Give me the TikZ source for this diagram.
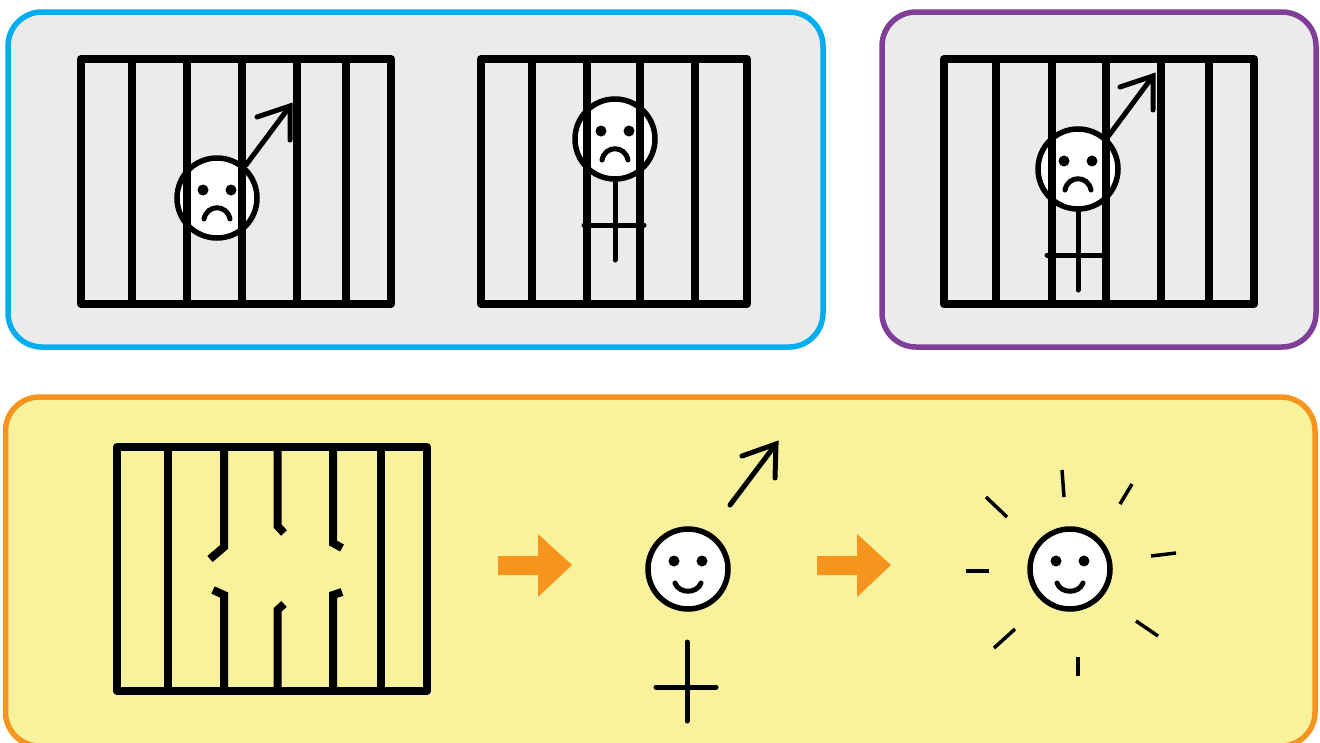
\documentclass[tikz,border=0pt]{standalone}

\definecolor{panelgray}{HTML}{EBEBEB}
\definecolor{panelyellow}{HTML}{F8F29D}
\definecolor{edgeblue}{HTML}{00AEEF}
\definecolor{edgepurple}{HTML}{7F3F98}
\definecolor{edgeorange}{HTML}{F7941E}

\tikzset{
  panel/.style={line width=5.5pt,rounded corners=34pt},
  cage/.style={line width=8pt,line join=round},
  bar/.style={line width=8pt},
  face/.style={circle,draw,fill=white,line width=5.5pt,minimum size=80pt,inner sep=0pt},
  mood/.style={line width=5pt,line cap=round},
  limb/.style={line width=5pt,line cap=round,line join=miter},
  ray/.style={line width=3.5pt}
}

\begin{document}
\begin{tikzpicture}[x=1pt,y=-1pt]
  \useasboundingbox (0,0) rectangle (1320,742);
  % panels
  \draw[panel,draw=edgeblue,fill=panelgray] (8,12) rectangle (823,347);
  \draw[panel,draw=edgepurple,fill=panelgray] (882,12) rectangle (1316,347);
  \draw[panel,draw=edgeorange,fill=panelyellow] (5.5,397) rectangle (1315,746);
  % sad faces
  \foreach \n/\x/\y in {sadA/217/198,sadB/615/139,sadC/1078/169}
  {
    \node[face] (\n) at (\x,\y) {};
    \fill (\x-14,\y-8) circle (5.5pt) (\x+14,\y-8) circle (5.5pt);
    \draw[mood] (\x-13,\y+21) .. controls (\x-10,\y+6) and (\x+10,\y+6) .. (\x+13,\y+21);
  }
  % happy faces
  \foreach \n/\x/\y in {gladA/688/569,gladB/1070/569}
  {
    \node[face] (\n) at (\x,\y) {};
    \fill (\x-14,\y-8) circle (5.5pt) (\x+14,\y-8) circle (5.5pt);
    \draw[mood] (\x-13,\y+14) .. controls (\x-9,\y+25) and (\x+9,\y+25) .. (\x+13,\y+14);
  }
  % male arrows
  \draw[limb] (sadA) ++(29,-33) coordinate (tailA) -- (290,106) coordinate (tipA);
  \draw[limb] (257,117) -- (tipA) -- (290,140);
  \draw[limb] (sadC) ++(29,-31) coordinate (tailC) -- (1153,76) coordinate (tipC);
  \draw[limb] (1120,87) -- (tipC) -- (1153,110);
  \coordinate (tailD) at (730,505);
  \coordinate (tipD) at (776,444);
  \draw[limb] (tailD) -- (tipD);
  \draw[limb] (742,456) -- (tipD) -- (775,478);
  % female crosses
  \coordinate (footB) at (615,260);
  \coordinate (footC) at (1078,290);
  \draw[limb] (sadB) -- (footB);
  \draw[limb] (584,225) -- (644,225);
  \draw[limb] (sadC) -- (footC);
  \draw[limb] (1047,255) -- (1107,255);
  \draw[limb] (687,642) -- (687,721);
  \draw[limb] (656,687) -- (716,687);
  % bars
  \foreach \x in {132,187,242,297,346,532,587,640,695,996,1052,1106,1161,1209}
    \draw[bar] (\x,59) -- (\x,304);
  \draw[cage] (81,59) rectangle (391,304);
  \draw[cage] (481,59) rectangle (747,304);
  \draw[cage] (944,59) rectangle (1254,304);
  % broken cage
  \foreach \x in {168,381}
    \draw[bar] (\x,447) -- (\x,691);
  \draw[bar] (224,447) -- (224,547) -- (210,559);
  \draw[bar] (224,691) -- (224,595) -- (213,590);
  \draw[bar] (277.5,447) -- (277.5,526) -- (284,533);
  \draw[bar] (277.5,691) -- (277.5,610) -- (284,604);
  \draw[bar] (333,447) -- (333,543) -- (342,548);
  \draw[bar] (333,691) -- (333,595) -- (342,592);
  \draw[cage] (117,447) rectangle (427,691);
  % orange arrows
  \foreach \x in {0,319}
    \fill[edgeorange,xshift=\x pt] (498,556) -- (538,556) -- (538,534) -- (572,565) -- (538,597) -- (538,575) -- (498,575) -- cycle;
  % sun rays
  \foreach \xa/\ya/\xb/\yb in {1062/470/1064/497,1132/484/1120/504,1176/553/1151/556,1158/636/1136/621,1078/676/1078/657,1015/629/994/648,989/571/966/571,1007/517/986/497}
    \draw[ray] (\xa,\ya) -- (\xb,\yb);
\end{tikzpicture}
\end{document}
